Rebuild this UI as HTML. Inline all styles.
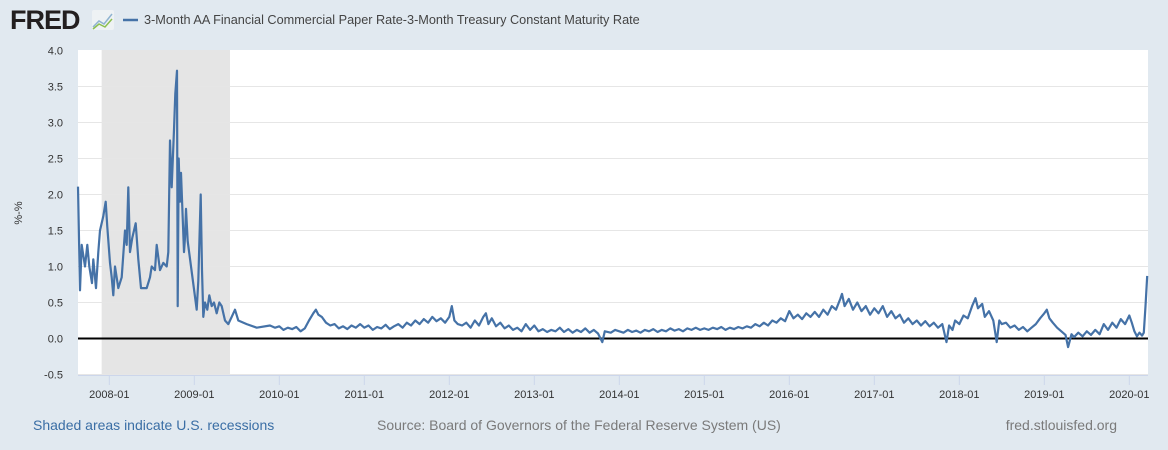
<!DOCTYPE html>
<html><head><meta charset="utf-8">
<style>
body{margin:0;width:1168px;height:450px;background:#e1e9f0;font-family:"Liberation Sans",Arial,sans-serif;overflow:hidden}
svg{display:block}
</style></head>
<body>
<svg id="chart" width="1168" height="450">
  <g>
    <text x="10" y="29" font-size="27" font-weight="bold" fill="#231f20" letter-spacing="-1">FRED</text>
    <rect x="92" y="10" width="22" height="20" rx="2" fill="#eef2f4"/>
    <polyline points="93,27 99,21 104,24 112,14" fill="none" stroke="#8fb3d0" stroke-width="1.5"/>
    <polyline points="93,29 99,24 105,27 112,19" fill="none" stroke="#8cbf4f" stroke-width="1.5"/>
    <line x1="123" y1="20" x2="138" y2="20" stroke="#4572a7" stroke-width="2.5"/>
    <text x="144" y="24" font-size="12.7" fill="#444">3-Month AA Financial Commercial Paper Rate-3-Month Treasury Constant Maturity Rate</text>
  </g>
  <rect x="78" y="50" width="1070" height="325" fill="#fff"/>
  <g id="recess"></g>
  <g id="grid"></g>
  <g id="xaxis"></g>
  <path id="series" fill="none" stroke="#4572a7" stroke-width="2.2" stroke-linejoin="round"/>
  <text transform="translate(22,213) rotate(-90)" text-anchor="middle" font-size="11" fill="#333">%-%</text>
  <text x="33" y="430" font-size="14" fill="#3a6ea5">Shaded areas indicate U.S. recessions</text>
  <text x="377" y="430" font-size="14" fill="#7a7a7a">Source: Board of Governors of the Federal Reserve System (US)</text>
  <text x="1117" y="430" font-size="14" fill="#7a7a7a" text-anchor="end">fred.stlouisfed.org</text>
</svg>
<script>
const yTicks=[-0.5,0,0.5,1,1.5,2,2.5,3,3.5,4];
const yTickLabels=["-0.5","0.0","0.5","1.0","1.5","2.0","2.5","3.0","3.5","4.0"];
const xTicks=[2008,2009,2010,2011,2012,2013,2014,2015,2016,2017,2018,2019,2020];
const xTickLabels=["2008-01","2009-01","2010-01","2011-01","2012-01","2013-01","2014-01","2015-01","2016-01","2017-01","2018-01","2019-01","2020-01"];
const recessions=[[2007.91,2009.42]];
const dates=[2007.632,2007.655,2007.675,2007.714,2007.741,2007.765,2007.796,2007.812,2007.844,2007.871,2007.891,2007.929,2007.958,2007.976,2008.008,2008.028,2008.047,2008.067,2008.106,2008.146,2008.185,2008.205,2008.224,2008.244,2008.271,2008.311,2008.341,2008.373,2008.44,2008.479,2008.499,2008.538,2008.558,2008.596,2008.635,2008.675,2008.694,2008.714,2008.734,2008.761,2008.776,2008.796,2008.805,2008.816,2008.832,2008.844,2008.879,2008.891,2008.902,2008.922,2009.028,2009.047,2009.075,2009.091,2009.106,2009.126,2009.153,2009.176,2009.205,2009.232,2009.264,2009.294,2009.322,2009.361,2009.4,2009.44,2009.479,2009.518,2009.616,2009.734,2009.891,
2009.95,2010.00,2010.05,2010.10,2010.15,2010.20,2010.25,2010.30,2010.35,2010.40,2010.43,2010.46,2010.50,2010.55,2010.60,2010.65,2010.70,2010.75,2010.80,2010.85,2010.90,2010.95,
2011.00,2011.05,2011.10,2011.15,2011.20,2011.25,2011.30,2011.35,2011.40,2011.45,2011.50,2011.55,2011.60,2011.65,2011.70,2011.75,2011.80,2011.85,2011.90,2011.95,
2012.00,2012.03,2012.06,2012.10,2012.15,2012.20,2012.25,2012.30,2012.35,2012.40,2012.43,2012.46,2012.50,2012.55,2012.60,2012.65,2012.70,2012.75,2012.80,2012.85,2012.90,2012.95,
2013.00,2013.05,2013.10,2013.15,2013.20,2013.25,2013.30,2013.35,2013.40,2013.45,2013.50,2013.55,2013.60,2013.65,2013.70,2013.75,2013.80,2013.83,2013.90,2013.95,
2014.00,2014.05,2014.10,2014.15,2014.20,2014.25,2014.30,2014.35,2014.40,2014.45,2014.50,2014.55,2014.60,2014.65,2014.70,2014.75,2014.80,2014.85,2014.90,2014.95,
2015.00,2015.05,2015.10,2015.15,2015.20,2015.25,2015.30,2015.35,2015.40,2015.45,2015.50,2015.55,2015.60,2015.65,2015.70,2015.75,2015.80,2015.85,2015.90,2015.95,
2016.00,2016.05,2016.10,2016.15,2016.20,2016.25,2016.30,2016.35,2016.40,2016.45,2016.50,2016.55,2016.60,2016.62,2016.65,2016.70,2016.75,2016.80,2016.85,2016.90,2016.95,
2017.00,2017.05,2017.10,2017.15,2017.20,2017.25,2017.30,2017.35,2017.40,2017.45,2017.50,2017.55,2017.60,2017.65,2017.70,2017.75,2017.80,2017.85,2017.88,2017.92,2017.95,
2018.00,2018.05,2018.10,2018.15,2018.19,2018.22,2018.27,2018.30,2018.35,2018.40,2018.44,2018.47,2018.50,2018.55,2018.60,2018.65,2018.70,2018.75,2018.80,2018.85,2018.90,2018.95,
2019.00,2019.03,2019.06,2019.10,2019.15,2019.20,2019.25,2019.28,2019.32,2019.35,2019.40,2019.45,2019.50,2019.55,2019.60,2019.65,2019.70,2019.75,2019.80,2019.85,2019.90,2019.95,
2020.00,2020.03,2020.06,2020.09,2020.12,2020.15,2020.17,2020.19,2020.21];
const values=[2.11,0.67,1.3,1.0,1.3,1.0,0.77,1.1,0.7,1.2,1.5,1.7,1.9,1.55,1.05,0.85,0.6,1.0,0.7,0.85,1.5,1.3,2.1,1.2,1.4,1.6,1.1,0.7,0.7,0.85,1.0,0.95,1.3,0.95,1.05,1.0,1.2,2.75,2.1,2.9,3.4,3.72,0.45,2.5,1.9,2.3,1.2,1.4,1.8,1.35,0.4,0.8,2.0,0.95,0.3,0.5,0.4,0.6,0.45,0.5,0.35,0.5,0.45,0.25,0.2,0.3,0.4,0.25,0.2,0.15,0.18,
0.15,0.17,0.12,0.15,0.13,0.16,0.10,0.14,0.25,0.35,0.40,0.33,0.30,0.22,0.18,0.20,0.14,0.17,0.13,0.18,0.15,0.20,
0.15,0.18,0.12,0.16,0.14,0.19,0.13,0.17,0.20,0.15,0.22,0.18,0.25,0.20,0.27,0.22,0.30,0.24,0.28,0.22,
0.30,0.45,0.25,0.20,0.18,0.22,0.15,0.25,0.18,0.30,0.35,0.20,0.28,0.17,0.22,0.14,0.18,0.12,0.15,0.10,0.20,0.12,
0.18,0.10,0.13,0.09,0.12,0.10,0.15,0.09,0.13,0.08,0.12,0.09,0.14,0.08,0.12,0.07,-0.05,0.10,0.08,0.12,
0.10,0.08,0.12,0.09,0.11,0.08,0.12,0.10,0.13,0.09,0.12,0.10,0.14,0.11,0.13,0.10,0.14,0.12,0.15,0.12,
0.14,0.12,0.15,0.13,0.16,0.12,0.15,0.13,0.16,0.14,0.17,0.15,0.20,0.17,0.22,0.18,0.25,0.22,0.28,0.24,
0.38,0.28,0.33,0.27,0.35,0.30,0.37,0.30,0.40,0.33,0.45,0.40,0.55,0.62,0.45,0.55,0.40,0.50,0.38,0.45,0.33,
0.42,0.35,0.45,0.30,0.38,0.28,0.33,0.22,0.28,0.20,0.25,0.18,0.24,0.17,0.22,0.15,0.20,-0.05,0.18,0.12,0.25,
0.20,0.32,0.28,0.45,0.56,0.42,0.48,0.30,0.38,0.25,-0.05,0.25,0.20,0.22,0.15,0.18,0.12,0.16,0.10,0.15,0.20,0.28,
0.35,0.40,0.28,0.22,0.15,0.10,0.05,-0.12,0.06,0.02,0.08,0.03,0.10,0.05,0.12,0.06,0.20,0.12,0.22,0.15,0.27,0.20,
0.32,0.22,0.10,0.03,0.08,0.04,0.08,0.45,0.87];

const NS="http://www.w3.org/2000/svg";
const X0=109.3,PXY=85,Y0=338.5,PXV=72;
function xs(t){return X0+(t-2008)*PXY;}
function ys(v){return Y0-v*PXV;}
function mk(tag,attrs,parent){const e=document.createElementNS(NS,tag);for(const k in attrs)e.setAttribute(k,attrs[k]);parent.appendChild(e);return e;}

const rg=document.getElementById('recess');
recessions.forEach(r=>{
  const e=mk('rect',{x:xs(r[0]),y:50,width:xs(r[1])-xs(r[0]),height:325,fill:'#e5e5e5'},rg);
  
  
});
const gg=document.getElementById('grid');
yTicks.forEach((v,i)=>{
  if(v!==0&&v!==4){
    const l=mk('line',{x1:78,x2:1148,y1:ys(v),y2:ys(v),stroke:'#e6e6e6','stroke-width':1},gg);
    
    
  }
  const t=mk('text',{x:63,y:ys(v)+4,'text-anchor':'end','font-size':11,fill:'#333'},gg);
  t.textContent=yTickLabels[i];
  
  
});
const xg=document.getElementById('xaxis');
const ax=mk('line',{x1:78,x2:1148,y1:375.5,y2:375.5,stroke:'#ccd6eb','stroke-width':1},xg);


xTicks.forEach((t,i)=>{
  const x=xs(t);
  const tk=mk('line',{x1:x,x2:x,y1:375,y2:385,stroke:'#ccd6eb','stroke-width':1},xg);
  
  
  const lb=mk('text',{x:x,y:398,'text-anchor':'middle','font-size':11,fill:'#333'},xg);
  lb.textContent=xTickLabels[i];
  
  
});
const zl=mk('line',{x1:78,x2:1148,y1:ys(0),y2:ys(0),stroke:'#000','stroke-width':2},xg);


let d='';
dates.forEach((t,i)=>{d+=(i?'L':'M')+xs(t).toFixed(1)+','+ys(values[i]).toFixed(1);});
const s=document.getElementById('series');
s.setAttribute('d',d);
document.getElementById('chart').appendChild(s);
</script>
</body></html>
